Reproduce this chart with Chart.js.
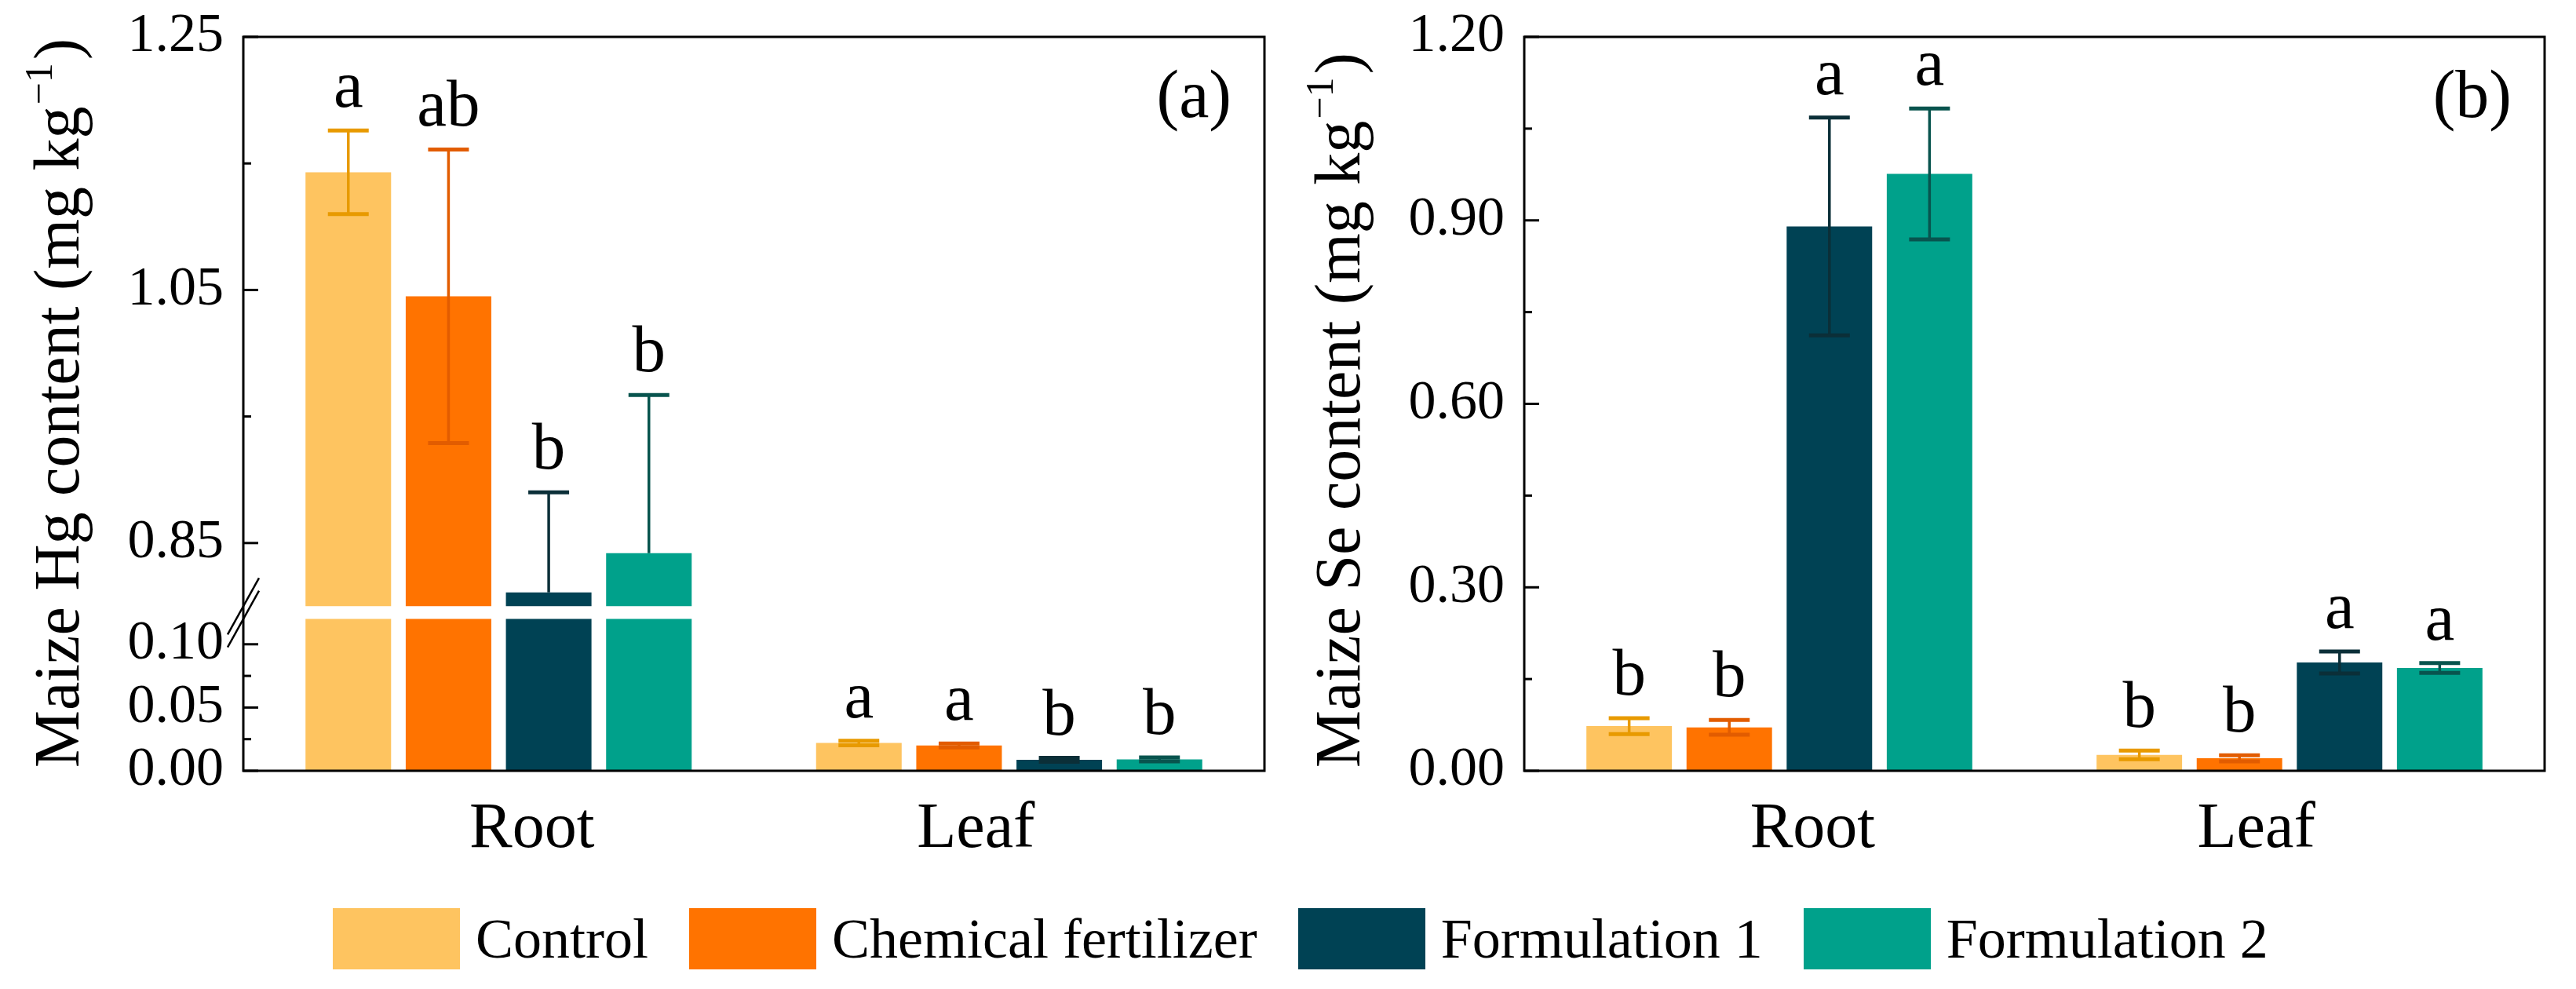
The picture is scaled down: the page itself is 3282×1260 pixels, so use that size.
<!DOCTYPE html>
<html>
<head>
<meta charset="utf-8">
<script src="https://cdn.jsdelivr.net/npm/chart.js@4.4.1/dist/chart.umd.min.js"></script>
<style>
  html, body { margin: 0; padding: 0; background: #fff; width: 3282px; height: 1260px; overflow: hidden; }
  canvas { position: absolute; top: 0; }
  #hgChart { left: 0; }
  #seChart { left: 1640px; }
  #legend { position: absolute; left: 424px; top: 1157px; height: 78px; display: flex; align-items: center;
            font-family: 'Liberation Serif', 'Times New Roman', serif; font-size: 72px; color: #000; white-space: nowrap; }
  .item { display: flex; align-items: center; margin-right: 52px; }
  .swatch { width: 162px; height: 78px; margin-right: 20px; }
</style>
</head>
<body>
<canvas id="hgChart" width="1640" height="1130"></canvas>
<canvas id="seChart" width="1642" height="1130"></canvas>
<div id="legend"></div>
<script>
const categories = ['Root', 'Leaf']
const treatments = ['Control', 'Chemical fertilizer', 'Formulation 1', 'Formulation 2']
const barColors = ['#FEC460', '#FF7300', '#004254', '#00A18B']
const errColors = ['#E89A00', '#E25C00', '#0B2F38', '#08544E']

// (a) Hg content, values per treatment as [Root, Leaf]
const hgControl = [1.143, 0.022]
const hgChemical = [1.045, 0.020]
const hgForm1 = [0.811, 0.0087]
const hgForm2 = [0.842, 0.009]
const hgControlErr = [0.033, 0.0018]
const hgChemicalErr = [0.116, 0.0015]
const hgForm1Err = [0.079, 0.0015]
const hgForm2Err = [0.125, 0.0015]
const hgLetters = [['a', 'a'], ['ab', 'a'], ['b', 'b'], ['b', 'b']]

// (b) Se content
const seControl = [0.073, 0.026]
const seChemical = [0.071, 0.0205]
const seForm1 = [0.890, 0.177]
const seForm2 = [0.976, 0.168]
const seControlErr = [0.013, 0.007]
const seChemicalErr = [0.012, 0.005]
const seForm1Err = [0.178, 0.018]
const seForm2Err = [0.107, 0.008]
const seLetters = [['b', 'b'], ['b', 'b'], ['a', 'a'], ['a', 'a']]

// axis ticks
const hgLowTicks = [0, 0.05, 0.10]
const hgLowMinor = [0.025, 0.075]
const hgUpTicks = [0.85, 1.05, 1.25]
const hgUpMinor = [0.95, 1.15]
const seTicks = [0, 0.30, 0.60, 0.90, 1.20]
const seMinor = [0.15, 0.45, 0.75, 1.05]

// broken axis for (a)
const hgLowMax = 0.13
const hgCut = 0.12
const hgUpMin = 0.80
const hgUpMax = 1.25

const FONT = "'Liberation Serif', 'Times New Roman', serif"
Chart.defaults.font.family = FONT
Chart.defaults.color = '#000'

function line (ctx, x1, y1, x2, y2) {
  ctx.beginPath()
  ctx.moveTo(x1, y1)
  ctx.lineTo(x2, y2)
  ctx.stroke()
}

function makeDecor (panel) {
  return {
    id: 'decor',
    afterDatasetsDraw (chart) {
      const ctx = chart.ctx
      ctx.save()
      panel.series.forEach((vals, i) => {
        const meta = chart.getDatasetMeta(i * panel.stride)
        vals.forEach((v, j) => {
          const e = panel.errors[i][j]
          const sc = panel.scaleFor(chart, v)
          const x = meta.data[j].x
          const low = v - e
          const yTop = sc.getPixelForValue(v + e)
          const hasLow = low >= sc.min
          const yBot = sc.getPixelForValue(hasLow ? low : v)
          ctx.strokeStyle = errColors[i]
          ctx.lineWidth = 3.5
          line(ctx, x, yTop, x, yBot)
          ctx.lineWidth = 5
          line(ctx, x - 26, yTop, x + 26, yTop)
          if (hasLow) line(ctx, x - 26, yBot, x + 26, yBot)
          ctx.fillStyle = '#000'
          ctx.font = '85px ' + FONT
          ctx.textAlign = 'center'
          ctx.textBaseline = 'alphabetic'
          ctx.fillText(panel.letters[i][j], x, yTop - 30)
        })
      })
      ctx.restore()
    },
    afterDraw (chart) {
      const ctx = chart.ctx
      const area = chart.chartArea
      ctx.save()
      ctx.strokeStyle = '#000'
      ctx.lineWidth = 3
      ctx.strokeRect(area.left, area.top, area.right - area.left, area.bottom - area.top)
      panel.ticks.forEach(t => {
        const sc = chart.scales[t.axis]
        t.major.forEach(v => line(ctx, area.left, sc.getPixelForValue(v), area.left + 19, sc.getPixelForValue(v)))
        t.minor.forEach(v => line(ctx, area.left, sc.getPixelForValue(v), area.left + 10, sc.getPixelForValue(v)))
      })
      if (panel.breakMarks) {
        ctx.lineWidth = 2.5
        const yA = chart.scales.yUp.getPixelForValue(hgUpMin)
        const yB = chart.scales.yLow.getPixelForValue(hgCut)
        ;[yA, yB].forEach(cy => line(ctx, area.left - 20, cy + 36, area.left + 20, cy - 36))
      }
      // rotated y title with superscript
      ctx.fillStyle = '#000'
      ctx.translate(area.left - 210, area.bottom - 4)
      ctx.rotate(-Math.PI / 2)
      ctx.textAlign = 'left'
      ctx.textBaseline = 'alphabetic'
      ctx.font = '82px ' + FONT
      let x = 0
      ctx.fillText(panel.title[0], x, 0)
      x += ctx.measureText(panel.title[0]).width + 2
      ctx.font = '50px ' + FONT
      ctx.fillText(panel.title[1], x, -34)
      x += ctx.measureText(panel.title[1]).width + 4
      ctx.font = '82px ' + FONT
      ctx.fillText(panel.title[2], x, 0)
      ctx.setTransform(1, 0, 0, 1, 0, 0)
      ctx.font = '86px ' + FONT
      ctx.textAlign = 'right'
      ctx.textBaseline = 'middle'
      ctx.fillText(panel.tag, area.right - 42, area.top + 79)
      ctx.restore()
    }
  }
}

function yAxis (extra, majors) {
  return Object.assign({
    type: 'linear',
    position: 'left',
    stacked: false,
    grid: { display: false, drawTicks: false },
    border: { display: false },
    afterBuildTicks: s => { s.ticks = majors.map(value => ({ value })) },
    afterFit: s => { s.width = 200; s.paddingTop = 0; s.paddingBottom = 0 },
    ticks: { autoSkip: false, padding: 25, font: { size: 70 }, callback: v => Number(v).toFixed(2) }
  }, extra)
}

const xAxes = {
  x: { type: 'category', display: false },
  xLab: {
    type: 'linear',
    position: 'bottom',
    offset: false,
    min: 0.35,
    max: 2.65,
    grid: { display: false, drawTicks: false, offset: false },
    border: { display: false },
    afterBuildTicks: s => { s.ticks = categories.map((c, k) => ({ value: k + 1 })) },
    afterFit: s => { s.height = 110 },
    ticks: { autoSkip: false, maxRotation: 0, padding: 26, font: { size: 82 }, callback: v => categories[v - 1] }
  }
}

const commonOptions = {
  responsive: false,
  animation: false,
  events: [],
  categoryPercentage: 0.785,
  barPercentage: 0.854,
  plugins: { legend: { display: false }, tooltip: { enabled: false } }
}

// ---------- (a) Hg ----------
const hgSeries = [hgControl, hgChemical, hgForm1, hgForm2]
const hgErrors = [hgControlErr, hgChemicalErr, hgForm1Err, hgForm2Err]
const hgDatasets = []
hgSeries.forEach((vals, i) => {
  hgDatasets.push({
    label: treatments[i], yAxisID: 'yLow', stack: 's' + i, backgroundColor: barColors[i], borderWidth: 0,
    data: vals.map(v => Math.min(v, hgCut))
  })
  hgDatasets.push({
    label: treatments[i], yAxisID: 'yUp', stack: 's' + i, backgroundColor: barColors[i], borderWidth: 0,
    data: vals.map(v => (v > hgUpMin ? [hgUpMin, v] : null))
  })
})

new Chart(document.getElementById('hgChart'), {
  type: 'bar',
  data: { labels: categories, datasets: hgDatasets },
  options: Object.assign({}, commonOptions, {
    layout: { padding: { left: 110, right: 29, top: 47, bottom: 38 } },
    scales: Object.assign({}, xAxes, {
      yLow: yAxis({ min: 0, max: hgLowMax, stack: 'hg', stackWeight: hgLowMax }, hgLowTicks),
      yUp: yAxis({ min: hgUpMin, max: hgUpMax, stack: 'hg', stackWeight: hgUpMax - hgUpMin }, hgUpTicks)
    })
  }),
  plugins: [makeDecor({
    series: hgSeries,
    errors: hgErrors,
    letters: hgLetters,
    stride: 2,
    scaleFor: (chart, v) => (v > hgUpMin ? chart.scales.yUp : chart.scales.yLow),
    ticks: [
      { axis: 'yLow', major: hgLowTicks, minor: hgLowMinor },
      { axis: 'yUp', major: hgUpTicks, minor: hgUpMinor }
    ],
    breakMarks: true,
    title: ['Maize Hg content (mg kg', '\u22121', ')'],
    tag: '(a)'
  })]
})

// ---------- (b) Se ----------
const seSeries = [seControl, seChemical, seForm1, seForm2]
const seErrors = [seControlErr, seChemicalErr, seForm1Err, seForm2Err]

new Chart(document.getElementById('seChart'), {
  type: 'bar',
  data: {
    labels: categories,
    datasets: seSeries.map((vals, i) => ({
      label: treatments[i], yAxisID: 'y', backgroundColor: barColors[i], borderWidth: 0, data: vals
    }))
  },
  options: Object.assign({}, commonOptions, {
    layout: { padding: { left: 102, right: 40, top: 47, bottom: 38 } },
    scales: Object.assign({}, xAxes, {
      y: yAxis({ min: 0, max: 1.2 }, seTicks)
    })
  }),
  plugins: [makeDecor({
    series: seSeries,
    errors: seErrors,
    letters: seLetters,
    stride: 1,
    scaleFor: chart => chart.scales.y,
    ticks: [{ axis: 'y', major: seTicks, minor: seMinor }],
    breakMarks: false,
    title: ['Maize Se content (mg kg', '\u22121', ')'],
    tag: '(b)'
  })]
})

// legend
const legend = document.getElementById('legend')
treatments.forEach((name, i) => {
  const item = document.createElement('div')
  item.className = 'item'
  const sw = document.createElement('div')
  sw.className = 'swatch'
  sw.style.background = barColors[i]
  const label = document.createElement('span')
  label.textContent = name
  item.appendChild(sw)
  item.appendChild(label)
  legend.appendChild(item)
})
</script>
</body>
</html>
